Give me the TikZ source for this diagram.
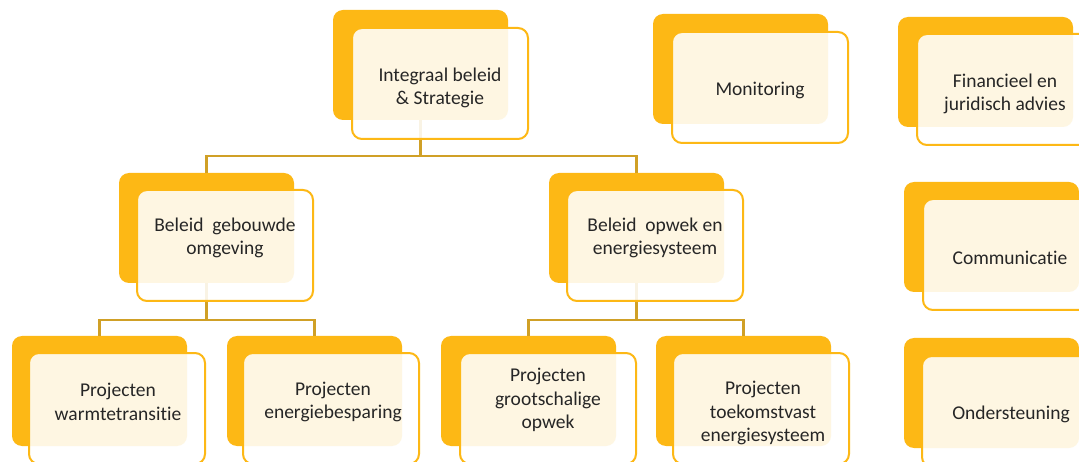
\documentclass[tikz,border=0pt]{standalone}
\usepackage{fontspec}
\setmainfont[Ligatures={NoCommon}]{Carlito}
\definecolor{gold}{RGB}{253,184,21}
\definecolor{linegold}{RGB}{208,160,38}
\definecolor{txt}{RGB}{38,38,38}
\tikzset{
  backbox/.style={anchor=north west, rectangle, rounded corners=10pt, fill=gold, draw=none,
    minimum width=175pt, minimum height=110pt, inner sep=0pt, outer sep=0pt},
  frontbox/.style={anchor=north west, rectangle, rounded corners=10pt, fill=white, fill opacity=0.88,
    draw=gold, draw opacity=1, line width=2pt, minimum width=176pt, minimum height=111pt, inner sep=0pt, outer sep=0pt},
  label/.style={align=center, inner sep=0pt, text=txt, font=\fontsize{19.5}{23.5}\selectfont},
  conn/.style={draw=linegold, line width=2.2pt}
}
\begin{document}
\begin{tikzpicture}[x=1pt,y=-1pt]
\useasboundingbox (0,0) rectangle (1079,462);
\fill[white] (0,0) rectangle (1079,462);
\clip (0,0) rectangle (1079,462);
% back boxes
\node[backbox] (b1) at (333,10) {};
\node[backbox] (b2) at (119,173) {};
\node[backbox] (b3) at (549,173) {};
\node[backbox] (b4) at (12,336) {};
\node[backbox] (b5) at (227,336) {};
\node[backbox] (b6) at (441,336) {};
\node[backbox] (b7) at (656,336) {};
\node[backbox] (b8) at (653,14) {};
\node[backbox] (b9) at (898,17) {};
\node[backbox] (b10) at (904,182) {};
\node[backbox] (b11) at (904,338) {};
% connectors
\draw[conn] (b1.south) -- ++(0,36) coordinate (h1) -| (b2.north);
\draw[conn] (h1) -| (b3.north);
\draw[conn] (b2.south) -- ++(0,37) coordinate (h2) -| (b4.north);
\draw[conn] (h2) -| (b5.north);
\draw[conn] (b3.south) -- ++(0,37) coordinate (h3) -| (b6.north);
\draw[conn] (h3) -| (b7.north);
% front boxes
\node[frontbox] (f1) at (352,28) {};
\node[frontbox] (f2) at (137,190) {};
\node[frontbox] (f3) at (567,190) {};
\node[frontbox] (f4) at (29,353) {};
\node[frontbox] (f5) at (243,353) {};
\node[frontbox] (f6) at (460,353) {};
\node[frontbox] (f7) at (673,353) {};
\node[frontbox] (f8) at (672,32) {};
\node[frontbox] (f9) at (917,34) {};
\node[frontbox] (f10) at (923,199) {};
\node[frontbox] (f11) at (922,356) {};
% labels
\node[label] (t1) at (440,88) {Integraal beleid\\\& Strategie};
\node[label] (t2) at (225,238) {Beleid\ \ gebouwde\\omgeving};
\node[label] (t3) at (655,238) {Beleid\ \ opwek en\\energiesysteem};
\node[label] (t4) at (118,402) {Projecten\\warmtetransitie};
\node[label] (t5) at (333,402) {Projecten\\energiebesparing};
\node[label] (t6) at (548,400) {Projecten\\grootschalige\\opwek};
\node[label] (t7) at (763,413) {Projecten\\toekomstvast\\energiesysteem};
\node[label] (t8) at (760,90) {Monitoring};
\node[label] (t9) at (1005,94) {Financieel en\\juridisch advies};
\node[label] (t10) at (1010,258) {Communicatie};
\node[label] (t11) at (1011,414) {Ondersteuning};
\end{tikzpicture}
\end{document}
